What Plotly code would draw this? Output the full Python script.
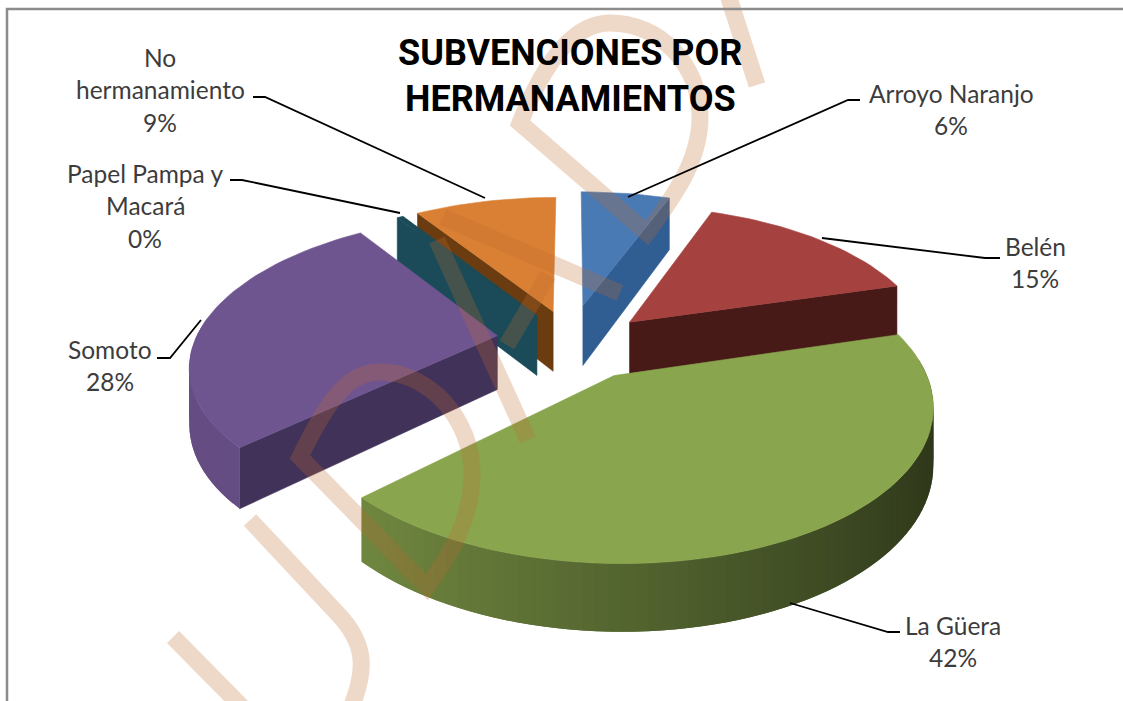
import math
import plotly.graph_objects as go

# ---------- data ----------
categories = ["Arroyo Naranjo", "Belén", "La Güera", "Somoto", "Papel Pampa y Macará", "No hermanamiento"]
values = [5.7, 14.8, 42.3, 27.7, 0.4, 9.1]
shown_pct = [6, 15, 42, 28, 0, 9]
title_lines = ["SUBVENCIONES POR", "HERMANAMIENTOS"]

# ---------- style ----------
top_colors = ["#4a7ab3", "#a5413f", "#89a54e", "#6f5590", "#1b4b58", "#d98034"]
face_colors = ["#305e92", "#471a18", "#4a5a28", "#413259", "#1b4b58", "#6b3c10"]
wall_light = [0.6, 0.5, 0.9, 0.92, 0.6, 0.6]
wall_dark = [0.5, 0.4, 0.33, 0.82, 0.5, 0.5]
pulls = [0.23, 0.23, 0.23, 0.29, 0.23, 0.23]
nudge_x = [-7, 2, 0, 6, -4, -6]
nudge_y = [-5, 2, 4, -2, 0, 0]
wall_scale = [1.15, 1.0, 1.0, 1.0, 1.15, 1.15]

CX, CY = 578, 342
A, B, P, H = 302, 143.6, 0.174, 54


def proj(x, y, z=0.0):
    d = 1 + P * y
    return CX + A * x / d, CY - (B * y - H * z) / d


def hex2rgb(c):
    return tuple(int(c[i:i + 2], 16) for i in (1, 3, 5))


def shade(c, f):
    r, g, b = hex2rgb(c)
    return f"rgb({int(r * f)},{int(g * f)},{int(b * f)})"


fig = go.Figure()


def poly(pts, color, edge=0.6):
    xs = [p[0] for p in pts] + [pts[0][0]]
    ys = [p[1] for p in pts] + [pts[0][1]]
    fig.add_trace(go.Scatter(x=xs, y=ys, mode="lines", fill="toself", fillcolor=color,
                             line=dict(color=color, width=edge), hoverinfo="skip", showlegend=False))


total = sum(values)
slices = []
acc = 0.0
for i, v in enumerate(values):
    t1 = acc / total * 2 * math.pi
    acc += v
    t2 = acc / total * 2 * math.pi
    slices.append((i, t1, t2))

for i, t1, t2 in sorted(slices, key=lambda s: -math.cos((s[1] + s[2]) / 2)):
    m = (t1 + t2) / 2
    ox, oy = pulls[i] * math.sin(m), pulls[i] * math.cos(m)
    zb = wall_scale[i]

    def pt(t, z=0.0, r=1.0):
        sx, sy = proj(ox + r * math.sin(t), oy + r * math.cos(t), z)
        return sx + nudge_x[i], sy + nudge_y[i]

    n = max(2, int((t2 - t1) / math.radians(2)))
    ts = [t1 + (t2 - t1) * k / n for k in range(n + 1)]
    if math.sin(t1) < 0:
        poly([pt(t1, 0, 0), pt(t1, 0), pt(t1, zb), pt(t1, zb, 0)], face_colors[i])
    if math.sin(t2) > 0:
        poly([pt(t2, 0, 0), pt(t2, 0), pt(t2, zb), pt(t2, zb, 0)], face_colors[i])
    step = (t2 - t1) / n
    for a, b in zip(ts[:-1], ts[1:]):
        if math.cos((a + b) / 2) < 0.1:
            u = (math.sin((a + b) / 2) + 1) / 2
            f = wall_dark[i] + (wall_light[i] - wall_dark[i]) * (1 - u)
            e = min(b + step, t2)
            poly([pt(a), pt(e), pt(e, zb), pt(a, zb)], shade(top_colors[i], f), edge=0)
    poly([pt(t1, 0, 0)] + [pt(t) for t in ts], top_colors[i])

# ---------- leaders & labels ----------
leaders = [
    "M860,100 L848,100 L628,197",
    "M1000,258 L985,258 L822,238",
    "M900,632 L888,632 L790,603",
    "M157,358 L170,358 L201,320",
    "M230,180 L242,180 L400,213",
    "M253,97 L265,97 L485,198",
]
label_lines = [
    [categories[0]],
    [categories[1]],
    [categories[2]],
    [categories[3]],
    ["Papel Pampa y", "Macará"],
    ["No", "hermanamiento"],
]
label_x = [951, 1035, 953, 110, 145, 160]
label_y0 = [93, 246, 625, 349, 173, 57]
ann = []
for i in range(len(categories)):
    lines = label_lines[i] + [f"{shown_pct[i]}%"]
    for k, t in enumerate(lines):
        ann.append(dict(x=label_x[i], y=label_y0[i] + 32.5 * k, text=t, showarrow=False,
                        xanchor="center", yanchor="middle",
                        font=dict(family="Lato", size=24.5, color="#3c3c3c")))
for k, t in enumerate(title_lines):
    ann.append(dict(x=570, y=52.5 + 46.5 * k, text=f"<b>{t}</b>", showarrow=False, xanchor="center",
                    yanchor="middle", font=dict(family="Roboto", size=36, color="#000000")))

shapes = []
# watermark
wm = [
    "M173,637 L245,710",
    "M250,520 L337,613 C365,642 368,668 350,710",
    "M300,457 C330,395 350,372 380,372 C430,372 472,420 472,473 C472,520 450,555 427,587 Z",
    "M520,123 C545,60 575,23 610,23 C660,23 700,65 700,117 C700,160 675,195 647,233 Z",
    "M728,-5 L757,85",
    "M443,217 L620,293",
    "M437,240 L528,440",
    "M507,345 L548,275",
]
for p in wm:
    shapes.append(dict(type="path", path=p, line=dict(color="#c06a30", width=17), opacity=0.26, layer="above"))
for p in leaders:
    shapes.append(dict(type="path", path=p, line=dict(color="#000000", width=1.8), layer="above"))
shapes.append(dict(type="path", path="M7,710 L7,9 L1130,9",
                   line=dict(color="#8c8c8c", width=2.5), layer="above"))

fig.update_layout(
    width=1123, height=701, margin=dict(l=0, r=0, t=0, b=0),
    paper_bgcolor="white", plot_bgcolor="white", showlegend=False,
    xaxis=dict(range=[0, 1123], visible=False, fixedrange=True),
    yaxis=dict(range=[701, 0], visible=False, fixedrange=True),
    shapes=shapes, annotations=ann,
)
fig.write_html("out.html", config={"displayModeBar": False},
               post_script="document.body.style.margin='0';document.body.style.overflow='hidden';")
